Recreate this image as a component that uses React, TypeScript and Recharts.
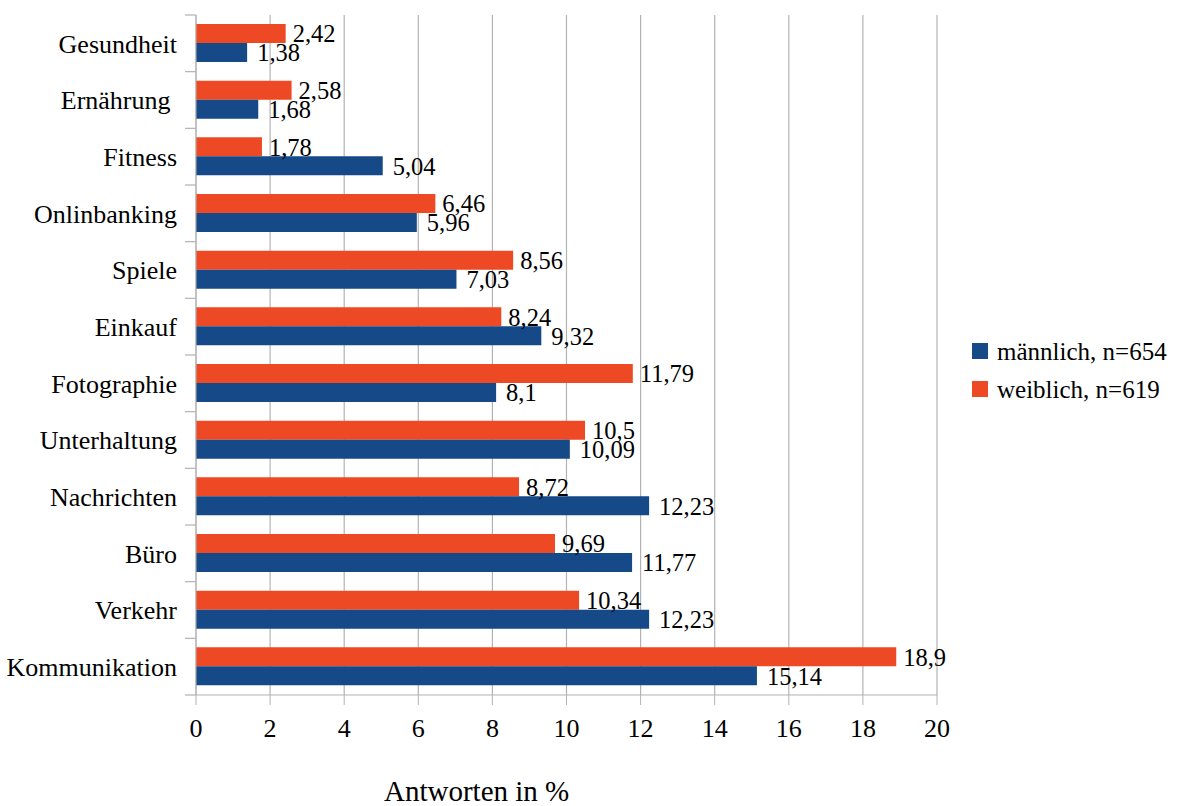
import React from 'react';
import { BarChart, Bar, XAxis, YAxis, CartesianGrid, Legend, LabelList, Label } from 'recharts';

// Categories from top to bottom
const categories = [
  'Gesundheit',
  'Ernährung ',
  'Fitness',
  'Onlinbanking',
  'Spiele',
  'Einkauf',
  'Fotographie',
  'Unterhaltung',
  'Nachrichten',
  'Büro',
  'Verkehr',
  'Kommunikation',
];

// Share of answers in percent
const maleValues = [1.38, 1.68, 5.04, 5.96, 7.03, 9.32, 8.1, 10.09, 12.23, 11.77, 12.23, 15.14];
const femaleValues = [2.42, 2.58, 1.78, 6.46, 8.56, 8.24, 11.79, 10.5, 8.72, 9.69, 10.34, 18.9];

const xTicks = [0, 2, 4, 6, 8, 10, 12, 14, 16, 18, 20];

const maleName = 'männlich, n=654';
const femaleName = 'weiblich, n=619';
const axisTitle = 'Antworten in %';

const data = categories.map((name, i) => ({ name, m: maleValues[i], w: femaleValues[i] }));

const W = 1178;
const H = 806;
const MARGIN = { top: 15, right: 241, bottom: 0, left: 0 };
const X_AXIS_H = 111;
const Y_AXIS_W = 196;
const Y_TICK_SIZE = 11;
const Y_TICK_MARGIN = 8;
const PLOT_H = H - MARGIN.top - MARGIN.bottom - X_AXIS_H;
const BAND = PLOT_H / categories.length;

const FONT = 'Liberation Serif';
const BLUE = '#164987';
const ORANGE = '#ee4925';
const GRID = '#b3b3b3';

const fmt = (v: any) => String(v).replace('.', ',');

function CategoryTick(props: any) {
  const { x, y, payload, index } = props;
  const axisX = x + Y_TICK_MARGIN + Y_TICK_SIZE;
  const top = y - BAND / 2;
  const bottom = y + BAND / 2;
  return (
    <g>
      <line x1={axisX - Y_TICK_SIZE} x2={axisX} y1={top} y2={top} stroke={GRID} strokeWidth={1.2} />
      {index === categories.length - 1 && (
        <line x1={axisX - Y_TICK_SIZE} x2={axisX} y1={bottom} y2={bottom} stroke={GRID} strokeWidth={1.2} />
      )}
      <text
        x={x}
        y={y}
        dy="0.355em"
        textAnchor="end"
        fontSize={26}
        fontFamily={FONT}
        fill="#000"
        style={{ whiteSpace: 'pre' }}
      >
        {payload.value}
      </text>
    </g>
  );
}

function AxisTitle(props: any) {
  const vb = props.viewBox || { x: 0, y: 0, width: 0, height: 0 };
  return (
    <text x={vb.x + 188} y={vb.y + vb.height - 5} fontSize={29} fontFamily={FONT} fill="#000">
      {axisTitle}
    </text>
  );
}

function LegendBox(props: any) {
  const items = [...(props.payload || [])].sort((a: any, b: any) =>
    String(a.value).localeCompare(String(b.value))
  );
  return (
    <div style={{ fontFamily: FONT, fontSize: 25, color: '#000' }}>
      {items.map((it: any) => (
        <div key={it.value} style={{ display: 'flex', alignItems: 'center', height: 38, lineHeight: '25px' }}>
          <span style={{ display: 'inline-block', width: 16, height: 16, background: it.color, marginRight: 9 }} />
          <span>{it.value}</span>
        </div>
      ))}
    </div>
  );
}

export default function App() {
  return (
    <div style={{ position: 'absolute', left: 0, top: 0, width: W, height: H, background: '#fff', fontFamily: FONT }}>
      <BarChart
        width={W}
        height={H}
        data={data}
        layout="vertical"
        margin={MARGIN}
        barGap={0}
        barSize={19}
        style={{ fontFamily: FONT }}
      >
        <CartesianGrid horizontal={false} stroke={GRID} strokeWidth={1.2} />
        <XAxis
          type="number"
          domain={[0, 20]}
          ticks={xTicks}
          interval={0}
          height={X_AXIS_H}
          tickSize={10}
          tickMargin={14}
          stroke={GRID}
          tick={{ fill: '#000', fontSize: 26, fontFamily: FONT }}
        >
          <Label content={<AxisTitle />} />
        </XAxis>
        <XAxis
          xAxisId="top"
          orientation="top"
          type="number"
          domain={[0, 20]}
          height={0}
          tick={false}
          tickLine={false}
          stroke={GRID}
        />
        <YAxis
          type="category"
          dataKey="name"
          width={Y_AXIS_W}
          interval={0}
          tickSize={Y_TICK_SIZE}
          tickMargin={Y_TICK_MARGIN}
          tickLine={false}
          stroke={GRID}
          tick={<CategoryTick />}
        />
        <Legend
          layout="vertical"
          align="center"
          verticalAlign="middle"
          wrapperStyle={{ left: 972, top: 332, width: 'auto' }}
          content={<LegendBox />}
        />
        <Bar dataKey="w" name={femaleName} fill={ORANGE} isAnimationActive={false}>
          <LabelList dataKey="w" position="right" offset={7} formatter={fmt} fill="#000" fontSize={24.5} fontFamily={FONT} />
        </Bar>
        <Bar dataKey="m" name={maleName} fill={BLUE} isAnimationActive={false}>
          <LabelList dataKey="m" position="right" offset={10} formatter={fmt} fill="#000" fontSize={24.5} fontFamily={FONT} />
        </Bar>
      </BarChart>
    </div>
  );
}
